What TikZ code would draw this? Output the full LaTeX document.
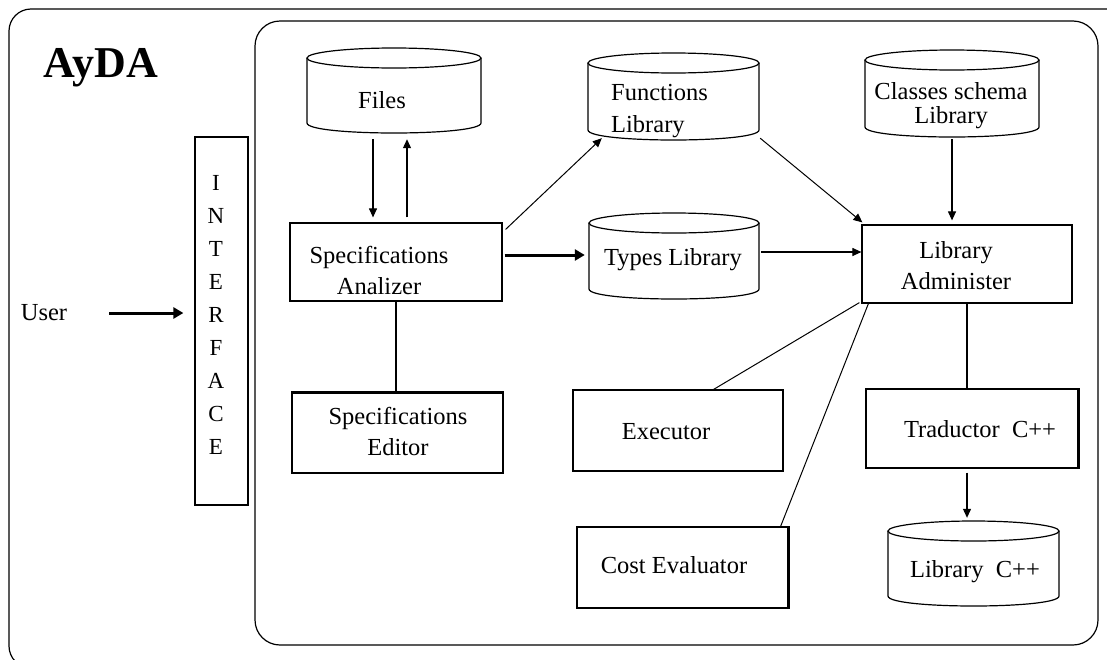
\documentclass[tikz,border=0pt]{standalone}
\usepackage{fontspec}
\setmainfont{Liberation Serif}
\usetikzlibrary{arrows.meta,calc}
\newcommand\tf{\fontsize{24.5}{31}\selectfont}
\begin{document}
\begin{tikzpicture}[x=1pt,y=-1pt,
  ln/.style={line width=1.2pt},
  box/.style={draw, line width=1.2pt, inner sep=0pt},
  txt/.style={font=\tf, align=center, inner sep=0pt},
  arr/.style={line width=1.1pt, -{Triangle[length=9pt,width=8pt]}},
  thickarr/.style={line width=3pt, -{Triangle[length=10pt,width=11pt]}},
  conn/.style={line width=1pt},
]
\newcommand\rbox[5]{\node[box, minimum width={#4-#2}, minimum height={#5-#3}] (#1) at ({(#2+#4)/2},{(#3+#5)/2}) {};}
\newcommand\cyl[5]{%
  \draw[ln] ({(#2+#4)/2},{#3+10}) ellipse [x radius={(#4-#2)/2}, y radius=10];
  \draw[ln] (#2,{#3+10}) -- (#2,{#5-10}) .. controls (#2,{#5+3.33}) and (#4,{#5+3.33}) .. (#4,{#5-10}) -- (#4,{#3+10});
  \node[inner sep=0pt, minimum width={#4-#2}, minimum height={#5-#3}] (#1) at ({(#2+#4)/2},{(#3+#5)/2}) {};}

\useasboundingbox (0,0) rectangle (1107,659);
\begin{scope}
  \clip (0,0) rectangle (1107,659);
  \draw[ln, rounded corners=22pt] (9,9) rectangle (1200,668);
\end{scope}
\draw[ln, rounded corners=25pt] (255,21) rectangle (1098,645);

% title and user
\node[font=\fontsize{44}{48}\selectfont\bfseries, inner sep=0pt] (title) at (101,68) {AyDA};
\node[txt] (user) at (44,313) {User};

% interface
\rbox{iface}{195}{137}{248}{505}
\node[font=\fontsize{23}{33}\selectfont, align=center, inner sep=0pt] (ifacet) at (216,315) {I\\N\\T\\E\\R\\F\\A\\C\\E};

% cylinders
\cyl{files}{307}{48}{481}{133}
\cyl{fl}{588}{53}{759}{140}
\cyl{cs}{865}{50}{1039}{137}
\cyl{tl}{589}{213}{759}{299}
\cyl{lc}{888}{521}{1059}{606}

% boxes
\rbox{sa}{290}{223}{502}{301}
\rbox{se}{292}{393}{503}{473}
\rbox{ex}{573}{390}{783}{471}
\rbox{ce}{577}{527}{788}{608}
\rbox{la}{862}{225}{1072}{303}
\rbox{tr}{866}{389}{1078}{468}
\draw[line width=3pt] (se.north west) -- (se.north east);
\draw[line width=3pt] (ce.north east) -- (ce.south east);
\draw[line width=3pt] (tr.north east) -- (tr.south east);

% texts
\node[txt] (files-t) at (382,100) {Files};
\node[txt, align=left, anchor=west, font=\fontsize{24.5}{32}\selectfont] (fl-t) at (611,111) {Functions\\Library};
\node[txt, font=\fontsize{24.5}{24}\selectfont] (cs-t) at (951,106) {Classes schema\\Library};
\node[txt] (tl-t) at (673,260) {Types Library};
\node[txt] (lc-t) at (975,572) {Library\ \ C++};
\node[txt] (sa-t) at (379,270) {Specifications\\Analizer};
\node[txt] (se-t) at (398,431) {Specifications\\Editor};
\node[txt] (ex-t) at (666,432) {Executor};
\node[txt] (ce-t) at (674,565) {Cost Evaluator};
\node[txt] (la-t) at (956,266) {Library\\Administer};
\node[txt] (tr-t) at (980,429) {Traductor\ \ C++};

% helper coordinates
\coordinate (fdown) at ($(files.south)+(-21,0)$);
\coordinate (fup) at ($(files.south)+(13,0)$);
\coordinate (sa-r) at ($(sa.east)+(2,-7)$);
\coordinate (tl-r) at ($(tl.east)+(2,-4)$);
\coordinate (user-r) at ($(user.east)+(42,0)$);

% connectors
\draw[thickarr, shorten >=11pt] (user-r) -- (user-r -| iface.west);
\draw[arr, shorten <=6pt, shorten >=5pt] (fdown) -- (fdown |- sa.north);
\draw[arr, shorten <=5pt, shorten >=6pt] (fup |- sa.north) -- (fup);
\draw[arr, conn] ($(sa.north east)+(3,7)$) -- ($(fl.south west)+(14,-2)$);
\draw[thickarr, shorten >=4pt] (sa-r) -- (sa-r -| tl.west);
\draw[arr] (tl-r) -- (tl-r -| la.west);
\draw[arr, conn] ($(fl.south east)+(1,-2)$) -- ($(la.north west)+(1,-2)$);
\draw[arr, shorten <=2pt, shorten >=4pt] (cs.south) -- (cs.south |- la.north);
\draw[ln] (sa.south) -- (sa.south |- se.north);
\draw[ln] (la.south) -- (la.south |- tr.north);
\draw[arr, shorten <=4pt, shorten >=3pt] (la.south |- tr.south) -- (la.south |- lc.north);
\draw[conn] ($(la.south west)+(-2,-1)$) -- ($(ex.north east)+(-70,0)$);
\draw[conn] ($(la.south west)+(7,0)$) -- ($(ce.north east)+(-8,0)$);
\end{tikzpicture}
\end{document}
